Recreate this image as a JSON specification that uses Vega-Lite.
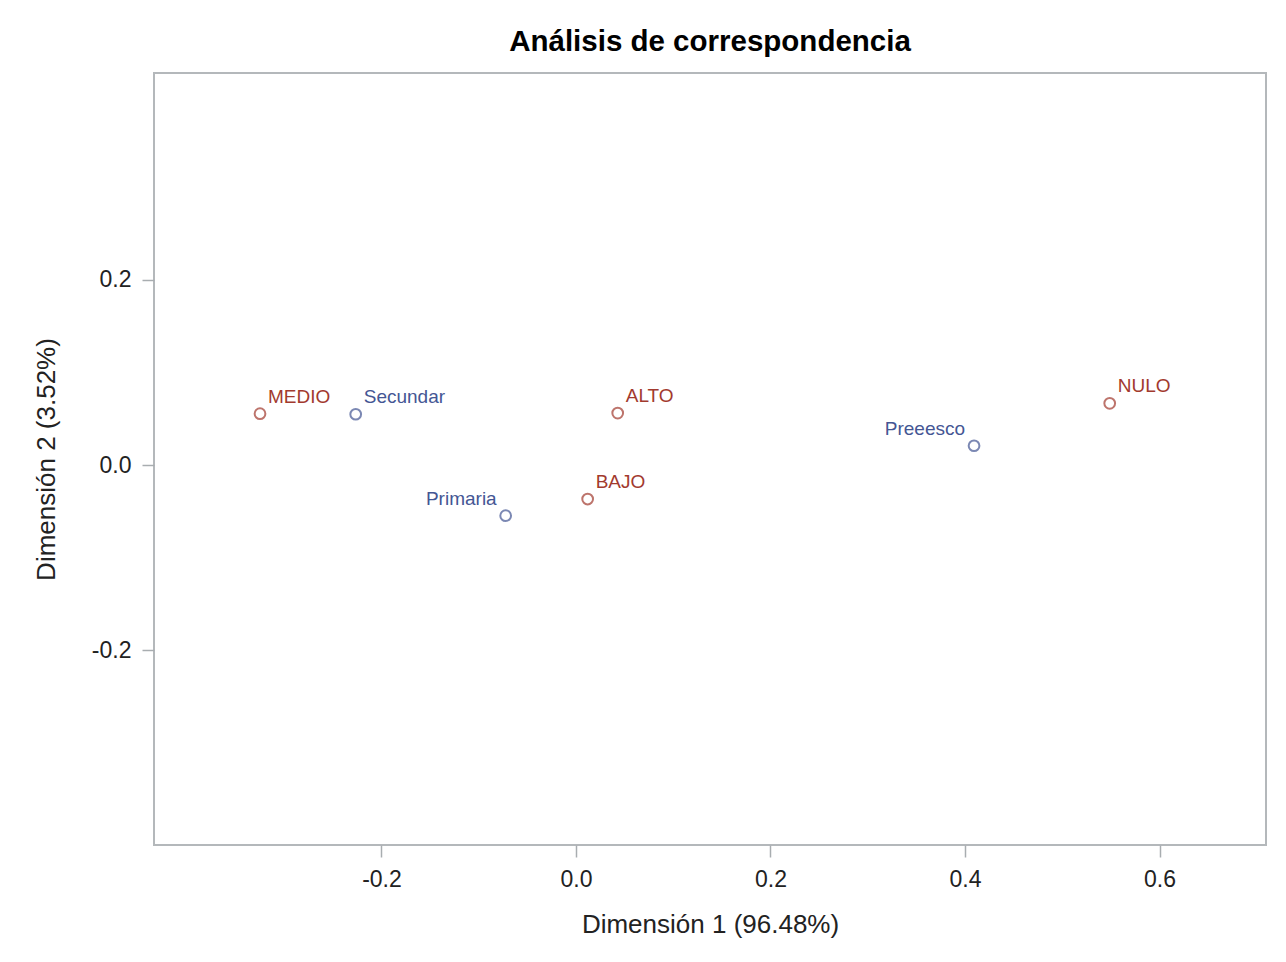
{
  "$schema": "https://vega.github.io/schema/vega-lite/v6.json",
  "autosize": {"type": "none"},
  "padding": {"left": 154, "top": 73, "right": 20, "bottom": 117},
  "width": 1112,
  "height": 772,
  "background": "white",
  "title": {
    "text": "Análisis de correspondencia",
    "font": "Liberation Sans",
    "fontSize": 29.5,
    "fontWeight": "bold",
    "color": "#000000",
    "anchor": "middle",
    "baseline": "alphabetic",
    "offset": -7
  },
  "config": {
    "view": {"stroke": "#b4b8bb", "strokeWidth": 2},
    "axis": {
      "domain": false,
      "grid": false,
      "tickColor": "#a8adb0",
      "tickWidth": 1.5,
      "tickSize": 12,
      "labelFont": "Liberation Sans",
      "labelFontSize": 23,
      "labelColor": "#222222",
      "labelPadding": 11,
      "titleFont": "Liberation Sans",
      "titleFontSize": 26,
      "titleFontWeight": "normal",
      "titleColor": "#222222"
    }
  },
  "data": {
    "values": [
      {"label": "MEDIO", "tipo": "Fila", "dim1": -0.3249, "dim2": 0.0554},
      {"label": "ALTO", "tipo": "Fila", "dim1": 0.0429, "dim2": 0.0561},
      {"label": "BAJO", "tipo": "Fila", "dim1": 0.0120, "dim2": -0.0367},
      {"label": "NULO", "tipo": "Fila", "dim1": 0.5488, "dim2": 0.0666},
      {"label": "Secundar", "tipo": "Columna", "dim1": -0.2265, "dim2": 0.0548},
      {"label": "Primaria", "tipo": "Columna", "dim1": -0.0723, "dim2": -0.0547},
      {"label": "Preeesco", "tipo": "Columna", "dim1": 0.4093, "dim2": 0.0208}
    ]
  },
  "encoding": {
    "x": {
      "field": "dim1",
      "type": "quantitative",
      "scale": {"domain": [-0.4339, 0.7095], "nice": false, "zero": false},
      "axis": {"title": "Dimensión 1 (96.48%)", "values": [-0.2, 0, 0.2, 0.4, 0.6], "labelExpr": "replace(format(datum.value, '.1f'), '−', '-')", "titlePadding": 20}
    },
    "y": {
      "field": "dim2",
      "type": "quantitative",
      "scale": {"domain": [-0.4101, 0.4231], "nice": false, "zero": false},
      "axis": {"title": "Dimensión 2 (3.52%)", "values": [-0.2, 0, 0.2], "labelExpr": "replace(format(datum.value, '.1f'), '−', '-')", "titlePadding": 32}
    },
    "color": {
      "field": "tipo",
      "type": "nominal",
      "scale": {"domain": ["Fila", "Columna"], "range": ["#A23A2E", "#445694"]},
      "legend": null
    }
  },
  "layer": [
    {
      "mark": {"type": "point", "shape": "circle", "filled": false, "size": 115, "strokeWidth": 2}
    },
    {
      "transform": [{"filter": "datum.label != 'Primaria' && datum.label != 'Preeesco'"}],
      "mark": {"type": "text", "align": "left", "baseline": "alphabetic", "dx": 8, "dy": -11, "font": "Liberation Sans", "fontSize": 19},
      "encoding": {"text": {"field": "label"}}
    },
    {
      "transform": [{"filter": "datum.label == 'Primaria' || datum.label == 'Preeesco'"}],
      "mark": {"type": "text", "align": "right", "baseline": "alphabetic", "dx": -9, "dy": -11, "font": "Liberation Sans", "fontSize": 19},
      "encoding": {"text": {"field": "label"}}
    }
  ]
}
